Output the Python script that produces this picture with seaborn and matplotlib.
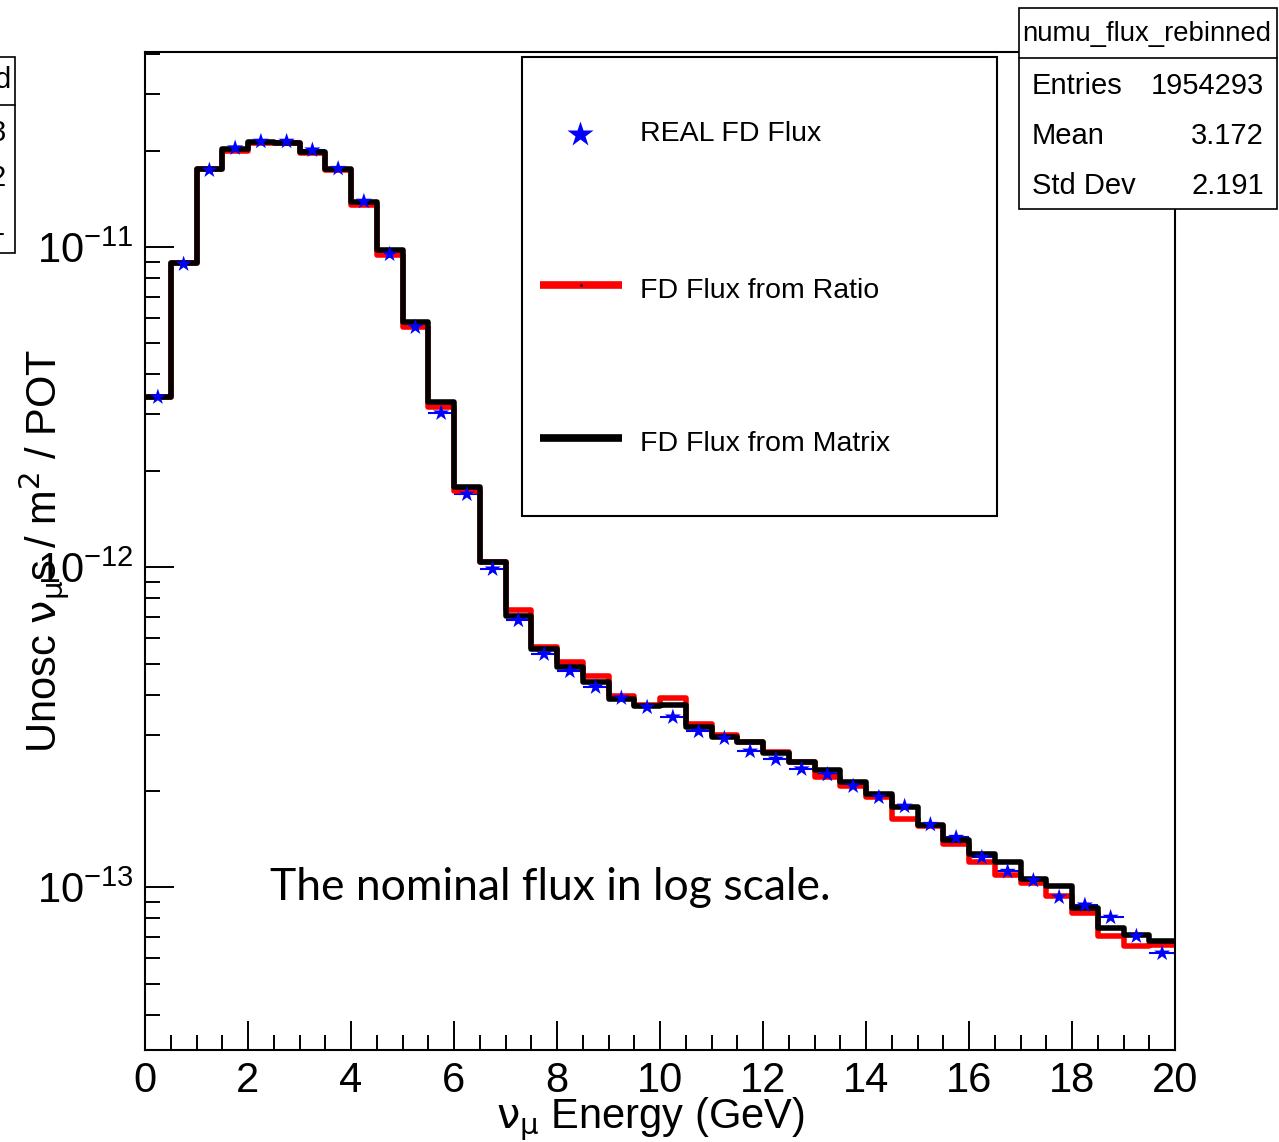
import numpy as np
import pandas as pd
import matplotlib.pyplot as plt
import matplotlib.ticker as mticker
import matplotlib.patches as mpatches
from matplotlib.lines import Line2D
import seaborn as sns

sns.set_style("ticks")
plt.rcParams["font.family"] = ["Liberation Sans Narrow", "Liberation Sans", "DejaVu Sans"]
plt.rcParams.update({"text.color": "black", "axes.labelcolor": "black",
                     "xtick.color": "black", "ytick.color": "black"})

# 0.5 GeV bins from 0 to 20 GeV
bin_edges = np.arange(0, 20.5, 0.5)
energy = bin_edges[:-1] + 0.25

# FD flux from matrix (black)
flux_matrix = [3.40e-12, 8.91e-12, 1.75e-11, 2.02e-11, 2.13e-11, 2.11e-11, 1.98e-11, 1.75e-11,
               1.38e-11, 9.79e-12, 5.83e-12, 3.28e-12, 1.78e-12, 1.04e-12, 7.03e-13, 5.54e-13,
               4.87e-13, 4.37e-13, 3.87e-13, 3.68e-13, 3.71e-13, 3.16e-13, 2.94e-13, 2.84e-13,
               2.62e-13, 2.46e-13, 2.32e-13, 2.13e-13, 1.95e-13, 1.78e-13, 1.57e-13, 1.40e-13,
               1.27e-13, 1.20e-13, 1.06e-13, 1.01e-13, 8.59e-14, 7.44e-14, 7.08e-14, 6.78e-14]

# FD flux from ratio (red)
flux_ratio = [3.40e-12, 8.91e-12, 1.75e-11, 2.00e-11, 2.11e-11, 2.11e-11, 1.97e-11, 1.74e-11,
              1.35e-11, 9.44e-12, 5.62e-12, 3.16e-12, 1.73e-12, 1.04e-12, 7.35e-13, 5.62e-13,
              5.05e-13, 4.56e-13, 3.95e-13, 3.71e-13, 3.90e-13, 3.23e-13, 2.99e-13, 2.84e-13,
              2.64e-13, 2.46e-13, 2.21e-13, 2.07e-13, 1.91e-13, 1.63e-13, 1.55e-13, 1.36e-13,
              1.20e-13, 1.09e-13, 1.03e-13, 9.37e-14, 8.30e-14, 7.03e-14, 6.55e-14, 6.59e-14]

# real FD flux (blue stars)
flux_real = [3.40e-12, 8.85e-12, 1.74e-11, 2.04e-11, 2.14e-11, 2.14e-11, 2.01e-11, 1.76e-11,
             1.39e-11, 9.50e-12, 5.62e-12, 3.03e-12, 1.69e-12, 9.86e-13, 6.82e-13, 5.35e-13,
             4.73e-13, 4.22e-13, 3.90e-13, 3.65e-13, 3.40e-13, 3.07e-13, 2.92e-13, 2.66e-13,
             2.51e-13, 2.34e-13, 2.25e-13, 2.07e-13, 1.91e-13, 1.79e-13, 1.57e-13, 1.43e-13,
             1.24e-13, 1.12e-13, 1.05e-13, 9.31e-14, 8.79e-14, 8.05e-14, 7.03e-14, 6.22e-14]

df = pd.DataFrame({"energy": energy, "matrix": flux_matrix,
                   "ratio": flux_ratio, "real": flux_real})

W, H = 1279, 1142
fig = plt.figure(figsize=(W / 100, H / 100), dpi=100)
ax = fig.add_axes([145 / W, 1 - 1050 / H, 1030 / W, 998 / H])

# real flux: horizontal bin-width bars + star markers
ax.errorbar(df["energy"], df["real"], xerr=0.25, fmt="none", ecolor="blue",
            elinewidth=1.5, zorder=1)
sns.histplot(data=df, x="energy", weights="ratio", bins=bin_edges.tolist(), element="step",
             fill=False, color="red", linewidth=4, ax=ax, zorder=2)
sns.histplot(data=df, x="energy", weights="matrix", bins=bin_edges.tolist(), element="step",
             fill=False, color="black", linewidth=4, ax=ax, zorder=3)
sns.scatterplot(data=df, x="energy", y="real", marker="*", s=150, color="blue",
                edgecolor="none", ax=ax, zorder=4)

ax.set_yscale("log")
ax.set_xlim(0, 20)
ax.set_ylim(3.10e-14, 4.07e-11)

ax.xaxis.set_major_locator(mticker.MultipleLocator(2))
ax.xaxis.set_minor_locator(mticker.MultipleLocator(0.5))
ax.yaxis.set_major_locator(mticker.LogLocator(base=10))
ax.yaxis.set_minor_locator(mticker.LogLocator(base=10, subs=np.arange(2, 10)))
ax.yaxis.set_minor_formatter(mticker.NullFormatter())

ax.tick_params(which="both", direction="in", top=False, right=False, width=1.4,
               labelsize=30, pad=8, color="black", labelcolor="black")
ax.tick_params(which="major", length=21)
ax.tick_params(which="minor", length=11)
for sp in ax.spines.values():
    sp.set_linewidth(1.5)
    sp.set_color("black")

ax.set_xlabel(r"$\mathrm{\nu_{\mu}}$ Energy (GeV)", fontsize=30, color="black")
ax.xaxis.set_label_coords(0.491, -0.045)
ax.set_ylabel(r"Unosc $\mathrm{\nu_{\mu}}$s / m$^{2}$ / POT", fontsize=30, color="black")
ax.yaxis.set_label_coords(-0.071, 0.5)

ax.text(0.121, 0.150, "The nominal flux in log scale.", transform=ax.transAxes,
        fontsize=32, family="Lato", va="baseline", ha="left", color="black")

# legend box
ax.add_patch(mpatches.Rectangle((0.366, 0.535), 0.461, 0.46, transform=ax.transAxes,
                                fill=False, edgecolor="black", lw=1.5, zorder=5))
ax.plot([0.4223], [0.9178], marker="*", ms=19, color="blue", mec="none",
        transform=ax.transAxes, zorder=6)
ax.plot([0.3835, 0.4631], [0.7665, 0.7665], color="red", lw=5.5,
        transform=ax.transAxes, zorder=6, solid_capstyle="butt")
ax.plot([0.4233], [0.7665], marker=".", ms=2, color="black",
        transform=ax.transAxes, zorder=7)
ax.plot([0.3835, 0.4631], [0.6132, 0.6132], color="black", lw=5.5,
        transform=ax.transAxes, zorder=6, solid_capstyle="butt")
for yy, lab in [(0.9178, "REAL FD Flux"), (0.7605, "FD Flux from Ratio"),
                (0.6072, "FD Flux from Matrix")]:
    ax.text(0.4806, yy, lab, transform=ax.transAxes, fontsize=20.5,
            family="Liberation Sans", va="center", ha="left", zorder=6)

# stat box
fig.add_artist(mpatches.Rectangle((1019 / W, 1 - 209 / H), 258 / W, 201 / H,
                                  transform=fig.transFigure, facecolor="white",
                                  edgecolor="black", lw=1.2, zorder=10))
fig.add_artist(Line2D([1019 / W, 1277 / W], [1 - 58 / H] * 2, color="black",
                      lw=1.2, zorder=11))
fig.text(1147 / W, 1 - 34 / H, "numu_flux_rebinned", fontsize=19.8,
         family="Liberation Sans", ha="center", va="center", zorder=11)
for yy, k, v in [(86, "Entries", "1954293"), (136, "Mean", "3.172"),
                 (186, "Std Dev", "2.191")]:
    fig.text(1032 / W, 1 - yy / H, k, fontsize=21, family="Liberation Sans",
             ha="left", va="center", zorder=11)
    fig.text(1264 / W, 1 - yy / H, v, fontsize=21, family="Liberation Sans",
             ha="right", va="center", zorder=11)

# clipped stat box at the left edge
fig.add_artist(mpatches.Rectangle((-0.02, 1 - 253 / H), 0.02 + 15 / W, 196 / H,
                                  transform=fig.transFigure, facecolor="white",
                                  edgecolor="black", lw=1.2, zorder=10))
fig.add_artist(Line2D([0, 15 / W], [1 - 105 / H] * 2, color="black", lw=1.2, zorder=11))
for yy, t, xr in [(80, "d", 11), (133, "3", 6), (178, "2", 6), (227, "1", 5)]:
    fig.text(xr / W, 1 - yy / H, t, fontsize=21, family="Liberation Sans",
             ha="right", va="center", zorder=11)

fig.savefig("out.png", dpi=100)
